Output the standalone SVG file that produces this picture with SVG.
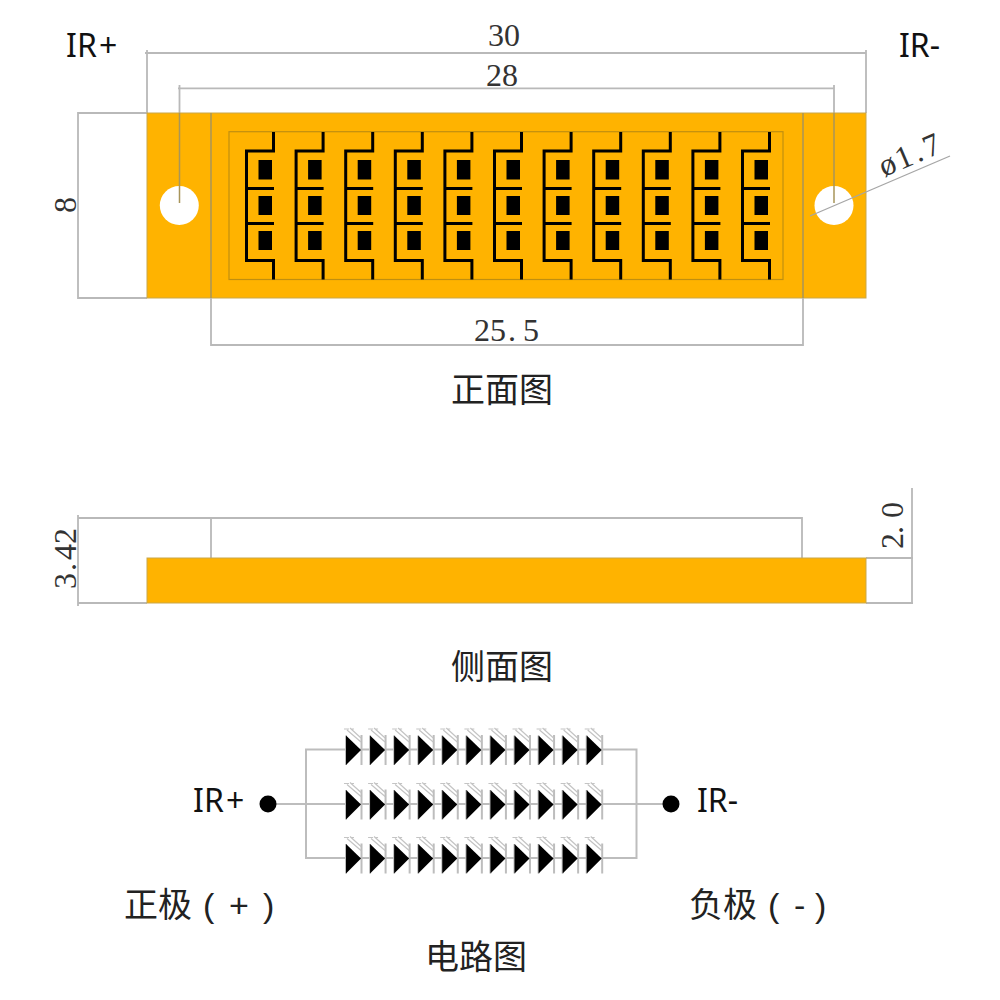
<svg xmlns="http://www.w3.org/2000/svg" xmlns:xlink="http://www.w3.org/1999/xlink" width="1000" height="1000" viewBox="0 0 1000 1000">
<style>
.dim{fill:none;stroke:#b9b9b9;stroke-width:1.8}
.dk{fill:none;stroke:#a8955a;stroke-width:1.5}
.wire{fill:none;stroke:#bdbdbd;stroke-width:2}
.tr{fill:none;stroke:#000;stroke-width:3}
.num{font-family:"Liberation Serif",serif;font-size:32px;fill:#333}
.lab{font-family:"Noto Sans","Liberation Sans",sans-serif;font-size:32px;fill:#111}
.cjk{font-family:"Liberation Sans","Noto Sans CJK SC",sans-serif;font-size:34px;fill:#222}
.b{fill:#ffb300;stroke:#c9a74a;stroke-width:1}
</style>
<defs>
<g id="cell">
<path class="tr" d="M273.500 132V151H246.500V260.500H273.500V279.500M246.500 188.500H274M246.500 223.500H274"/>
<rect x="258.500" y="160" width="13.500" height="19.500"/>
<rect x="258.500" y="196" width="13.500" height="19"/>
<rect x="258.500" y="231" width="13.500" height="19"/>
</g>
<g id="led">
<path d="M346 735.500V765M361.500 735V765" stroke="#bdbdbd" stroke-width="2" fill="none"/>
<path d="M346 735.500L361 750L346 765Z" fill="#000"/>
<path d="M347 730L361 742M350 728L361 738M344 729L349 729M351 729L354 729" stroke="#c4c4c4" stroke-width="1.200" fill="none"/>
</g>
<g id="ledrow">
<use xlink:href="#led"/><use xlink:href="#led" x="24.070"/><use xlink:href="#led" x="48.140"/><use xlink:href="#led" x="72.210"/><use xlink:href="#led" x="96.280"/><use xlink:href="#led" x="120.350"/><use xlink:href="#led" x="144.420"/><use xlink:href="#led" x="168.490"/><use xlink:href="#led" x="192.560"/><use xlink:href="#led" x="216.630"/><use xlink:href="#led" x="240.700"/>
</g>
</defs>
<rect width="1000" height="1000" fill="#fff"/>

<g id="front-dims-back">
<path class="dim" d="M147 113V50M145 53H866M866 50V113M179.500 205V85M178 88.300H834M834 85V205M147 113H78V298H147"/>
</g>
<g id="front-view">
<rect class="b" x="147" y="113" width="719" height="185"/>
<rect x="229" y="131.700" width="554" height="147.800" fill="none" stroke="#c08f10" stroke-width="1.200"/>
<use xlink:href="#cell"/><use xlink:href="#cell" x="49.600"/><use xlink:href="#cell" x="99.200"/><use xlink:href="#cell" x="148.800"/><use xlink:href="#cell" x="198.400"/><use xlink:href="#cell" x="248"/><use xlink:href="#cell" x="297.600"/><use xlink:href="#cell" x="347.200"/><use xlink:href="#cell" x="396.800"/><use xlink:href="#cell" x="446.400"/><use xlink:href="#cell" x="496"/>
<circle cx="179.300" cy="205.500" r="19.500" fill="#fff"/>
<circle cx="834" cy="205.500" r="19.500" fill="#fff"/>
</g>
<g id="front-dims">
<path class="dk" d="M179.500 113V203M834 113V203M211 113V298M803 113V298"/>
<path class="dim" d="M211 298V345H803V298"/>
<path d="M810 216L950 156" stroke="#a5a5a5" stroke-width="1.300" fill="none"/>
<text class="num" x="488" y="46">30</text>
<text class="num" x="486" y="86">28</text>
<text class="num" x="474 490 508 523" y="341">25.5</text>
<text class="num" transform="translate(76 213) rotate(-90)">8</text>
<text class="num" transform="translate(884 177) rotate(-23)" x="0 18 37 48">ø1.7</text>
<text class="lab" x="66 77 99" y="57">IR+</text>
<text class="lab" x="899" y="57">IR-</text>
<text class="cjk" x="451" y="402">正面图</text>
</g>

<g id="side-view">
<path class="dim" d="M147 518H78V603H147M78 515V606M78 518H211V558M211 518H802V558M866 558H913M866 603H913M912 488V603"/>
<rect class="b" x="147" y="558" width="719" height="45"/>
<text class="num" transform="translate(76 589) rotate(-90)" x="0 18 29 45">3.42</text>
<text class="num" transform="translate(903 549) rotate(-90)" x="0 15 31">2.0</text>
<text class="cjk" x="451" y="679">侧面图</text>
</g>

<g id="connectors">
<path class="wire" d="M268 804H671M346 749.500H306V858H346M601 749.500H636.500V858H601M346 749.500H601M346 858H601"/>
</g>
<g id="circuit">
<use xlink:href="#ledrow"/>
<use xlink:href="#ledrow" y="54.500"/>
<use xlink:href="#ledrow" y="108.500"/>
<circle cx="268" cy="804" r="8.500" fill="#000"/>
<circle cx="671" cy="804" r="8.500" fill="#000"/>
<text class="lab" x="193 204 226" y="812">IR+</text>
<text class="lab" x="697" y="812">IR-</text>
<text class="cjk" x="124 158 203 229 263" y="917">正极(+)</text>
<text class="cjk" x="689 723 768 794 815" y="917">负极(-)</text>
<text class="cjk" x="425" y="969">电路图</text>
</g>
</svg>
